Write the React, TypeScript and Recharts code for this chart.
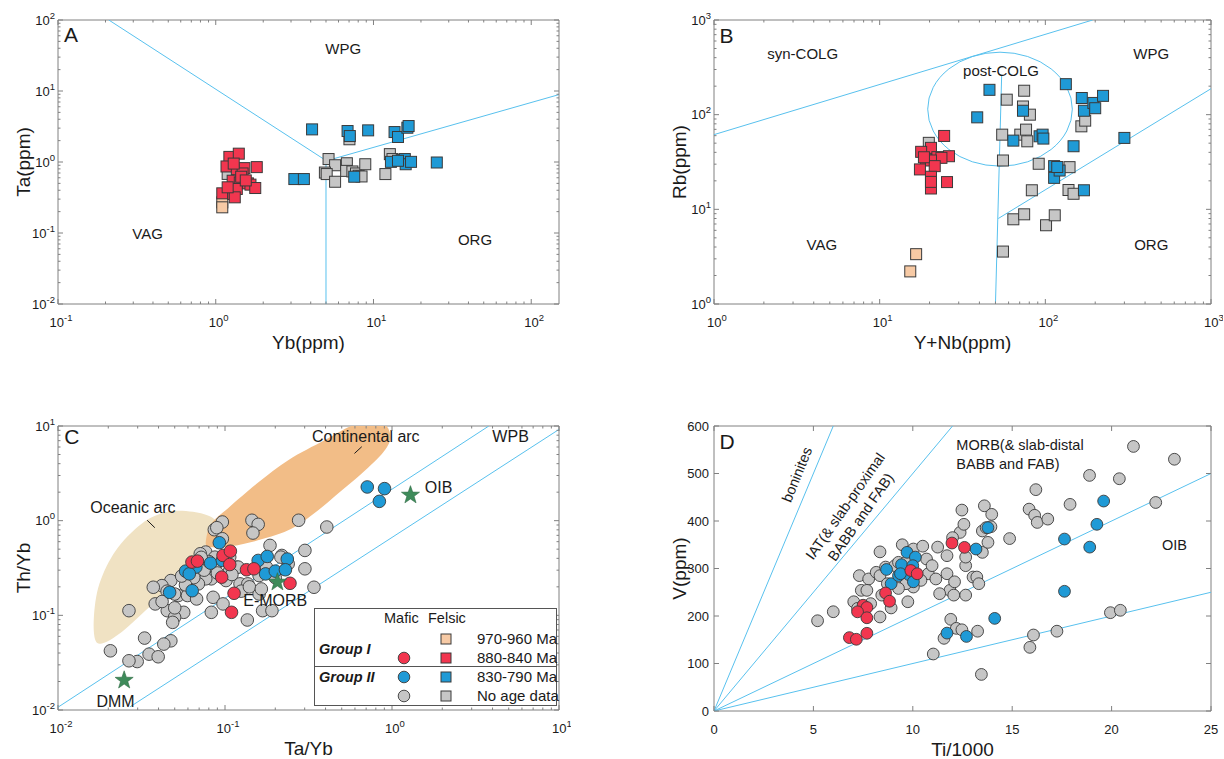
import React from 'react';
import { ScatterChart, Scatter, XAxis, YAxis, Legend } from 'recharts';

const FONT = '"Liberation Sans", Arial, Helvetica, sans-serif';
const INK = '#1a1a1a';
const AXIS = '#808080';
const BOUND = '#58c1ee';
const EDGE = '#3a3a3a';
const RED = '#f2364f';
const BLUE = '#1f9ad6';
const GRAY = '#c6c6c6';
const PEACH = '#f7caa5';
const GREEN = '#3e8b5a';
const CONT = '#f2bd87';
const OCEAN = '#f0e2c3';

type Pt = [number, number];
type Lbl = { x: number; y: number; t: string };

// ---------- A: Ta vs Yb ----------
const A_FELSIC_970: Pt[] = [[1.1, 0.27], [1.1, 0.23]];
const A_FELSIC_880: Pt[] = [
  [1.22, 1.18], [1.4, 1.31], [1.17, 0.865], [1.36, 0.79], [1.52, 0.82], [1.48, 0.69], [1.82, 0.847],
  [1.28, 0.545], [1.42, 0.516], [1.1, 0.362], [1.29, 0.355], [1.36, 0.417], [1.6, 0.5], [1.66, 0.48],
  [1.78, 0.43], [1.32, 0.318], [1.19, 0.44], [1.45, 0.62], [1.3, 0.95], [1.55, 0.55],
];
const A_FELSIC_830: Pt[] = [
  [4.08, 2.88], [6.85, 2.73], [7.08, 2.32], [9.25, 2.79], [13.6, 2.64], [14.3, 2.25], [16.4, 3.04],
  [16.7, 3.21], [3.15, 0.575], [3.62, 0.575], [7.55, 0.62], [12.9, 1.005], [15.1, 1.06], [15.8, 1.1],
  [16.0, 0.93], [25.2, 0.984], [14.3, 1.04], [17.3, 1.005],
];
const A_FELSIC_NOAGE: Pt[] = [
  [5.19, 1.1], [5.71, 0.9], [4.92, 0.71], [5.05, 0.676], [5.71, 0.527], [6.78, 0.96], [6.71, 0.75],
  [7.35, 0.736], [7.75, 0.69], [8.05, 0.64], [8.87, 0.93], [11.9, 0.676], [12.7, 1.29], [8.4, 0.626],
  [7.04, 2.09], [1.19, 0.68], [13.2, 1.1],
];
const A_BOUNDS: Pt[][] = [
  [[0.21, 100], [4.9, 1.08]],
  [[5, 0.01], [5, 1.0]],
  [[5.5, 1.1], [150, 8.9]],
];
const A_LETTER: Lbl[] = [{ x: 0.121, y: 63, t: 'A' }];
const A_TEXT: Lbl[] = [
  { x: 6.43, y: 40, t: 'WPG' },
  { x: 0.37, y: 0.098, t: 'VAG' },
  { x: 44, y: 0.08, t: 'ORG' },
];

// ---------- B: Rb vs Y+Nb ----------
const B_FELSIC_970: Pt[] = [[16.6, 3.36], [15.3, 2.21]];
const B_FELSIC_880: Pt[] = [
  [24.5, 59.6], [20.4, 44.6], [17.8, 40.5], [26.2, 36.4], [22.3, 35.6], [23.6, 35.0], [19.0, 33.6],
  [20.4, 32.8], [21.5, 28.6], [17.5, 26.4], [20.4, 22.1], [25.5, 19.4], [20.4, 16.6], [20.4, 19.5], [18.5, 35.5],
];
const B_FELSIC_830: Pt[] = [
  [46.0, 183], [38.8, 93.7], [64.1, 53.2], [73.3, 110], [92.3, 59.1], [96.3, 61.5], [97.3, 55.9],
  [133, 210], [166, 150], [171, 110], [195, 133], [200, 117], [223, 158], [148, 46.4], [113, 28.6],
  [113, 21.5], [122, 25.7], [300, 56.8], [171, 15.9], [118, 28],
];
const B_FELSIC_NOAGE: Pt[] = [
  [58.5, 144], [74.5, 179], [73.3, 122], [80.7, 100], [54.9, 61.5], [70.6, 61.5], [76.5, 69.5],
  [77.8, 52.3], [55.5, 32.8], [91.2, 30.3], [140, 27.9], [82.9, 15.9], [138, 16.0], [148, 14.6],
  [165, 75.3], [174, 86.5], [64.1, 7.85], [74.5, 8.86], [101, 6.79], [114, 8.65], [55.5, 3.58], [19.8, 50.4],
];
const B_BOUNDS: Pt[][] = [
  [[1, 61.5], [193, 1000]],
  [[50, 1], [54.5, 260]],
  [[52, 8.0], [1000, 188]],
];
// left, top, right, bottom of the post-COLG field
const B_POST_COLG: Pt[] = [[19.5, 116], [53.3, 457], [145.5, 116], [53.3, 28.6]];
const B_LETTER: Lbl[] = [{ x: 1.19, y: 695, t: 'B' }];
const B_TEXT: Lbl[] = [
  { x: 3.43, y: 445, t: 'syn-COLG' },
  { x: 54, y: 290, t: 'post-COLG' },
  { x: 436, y: 445, t: 'WPG' },
  { x: 4.48, y: 4.28, t: 'VAG' },
  { x: 436, y: 4.28, t: 'ORG' },
];

// ---------- C: Th/Yb vs Ta/Yb ----------
const C_MAFIC_880: Pt[] = [
  [0.0634, 0.365], [0.0684, 0.374], [0.0973, 0.429], [0.1077, 0.476], [0.1067, 0.344], [0.0955, 0.253],
  [0.1133, 0.171], [0.1094, 0.1076], [0.1345, 0.303], [0.149, 0.31], [0.245, 0.218],
];
const C_MAFIC_830: Pt[] = [
  [0.711, 2.27], [0.902, 2.18], [0.84, 1.6], [0.0925, 0.585], [0.0581, 0.293], [0.0669, 0.323],
  [0.082, 0.356], [0.0466, 0.175], [0.0636, 0.182], [0.158, 0.38], [0.179, 0.419], [0.236, 0.393],
  [0.175, 0.274], [0.2, 0.293], [0.23, 0.303], [0.0611, 0.274], [0.0964, 0.38],
];
const C_MAFIC_NOAGE: Pt[] = [
  [0.0964, 0.968], [0.0863, 0.803], [0.0893, 0.843], [0.0964, 0.644], [0.145, 1.01], [0.158, 0.914],
  [0.147, 0.74], [0.276, 1.01], [0.407, 0.857], [0.186, 0.548], [0.301, 0.485], [0.301, 0.31],
  [0.341, 0.198], [0.219, 0.429], [0.239, 0.35], [0.16, 0.263], [0.177, 0.323], [0.118, 0.323],
  [0.123, 0.215], [0.1067, 0.297], [0.0767, 0.466], [0.0711, 0.447], [0.0871, 0.412], [0.0828, 0.243],
  [0.0767, 0.243], [0.0693, 0.215], [0.0849, 0.155], [0.0973, 0.132], [0.0828, 0.1076], [0.137, 0.215],
  [0.136, 0.0893], [0.168, 0.112], [0.191, 0.112], [0.216, 0.412], [0.16, 0.168], [0.0474, 0.233],
  [0.0419, 0.206], [0.0372, 0.198], [0.0382, 0.132], [0.0451, 0.112], [0.0566, 0.1076], [0.0499, 0.0953],
  [0.0486, 0.0843], [0.0266, 0.112], [0.033, 0.0575], [0.0474, 0.0538], [0.043, 0.0497], [0.0351, 0.0389],
  [0.0398, 0.0365], [0.0298, 0.0325], [0.0266, 0.0331], [0.0206, 0.0422], [0.0525, 0.162], [0.0499, 0.168],
  [0.0596, 0.162], [0.0676, 0.149], [0.1067, 0.412], [0.12, 0.323], [0.0871, 0.323], [0.1014, 0.233],
  [0.075, 0.3], [0.09, 0.28], [0.065, 0.25], [0.08, 0.37], [0.072, 0.41], [0.058, 0.21], [0.055, 0.26],
  [0.11, 0.27], [0.125, 0.18], [0.14, 0.2], [0.2, 0.25], [0.165, 0.19], [0.045, 0.18], [0.042, 0.14], [0.05, 0.12],
];
const C_REFERENCE: Pt[] = [[0.0249, 0.0206], [0.206, 0.224], [1.29, 1.86]]; // DMM, E-MORB, OIB
const C_OCEANIC_ARC: Pt[] = [
  [0.0168, 0.0538], [0.0164, 0.0953], [0.0177, 0.215], [0.0222, 0.485], [0.0317, 0.929], [0.0452, 1.24],
  [0.0643, 1.24], [0.0828, 1.09], [0.0871, 0.929], [0.0807, 0.671], [0.0711, 0.447], [0.0581, 0.297],
  [0.0452, 0.182], [0.0333, 0.112], [0.0246, 0.0688], [0.0191, 0.0517],
];
const C_CONTINENTAL_ARC: Pt[] = [
  [0.0767, 0.594], [0.0828, 0.929], [0.1067, 1.4], [0.16, 2.57], [0.239, 4.36], [0.397, 7.11], [0.6, 10.3],
  [0.88, 10.6], [0.977, 7.71], [0.891, 5.35], [0.659, 3.15], [0.462, 1.86], [0.341, 1.19], [0.239, 0.79],
  [0.1445, 0.594], [0.1014, 0.526], [0.0807, 0.526],
];
const C_BOUNDS: Pt[][] = [
  [[0.01, 0.0107], [3.8, 10]],
  [[0.027, 0.0108], [10, 9.2]],
];
const C_LEADERS: Pt[][] = [
  [[0.0342, 1.01], [0.038, 0.843]],
  [[0.596, 5.13], [0.659, 6.04]],
];
const C_LETTER: Lbl[] = [{ x: 0.0121, y: 7.7, t: 'C' }];
const C_TEXT: Lbl[] = [
  { x: 0.697, y: 7.83, t: 'Continental arc' },
  { x: 0.0281, y: 1.4, t: 'Oceanic arc' },
  { x: 5.13, y: 7.83, t: 'WPB' },
  { x: 1.9, y: 2.24, t: 'OIB' },
  { x: 0.2, y: 0.143, t: 'E-MORB' },
  { x: 0.0221, y: 0.0124, t: 'DMM' },
];

// ---------- D: V vs Ti/1000 ----------
const D_MAFIC_880: Pt[] = [
  [6.81, 154.5], [7.16, 151], [7.69, 163.6], [7.5, 222.7], [7.69, 217.9], [7.22, 208.8], [8.63, 248.5],
  [8.83, 231.1], [9.9, 295.8], [10.22, 288.9], [11.97, 353.6], [12.6, 344.5], [7.69, 196.3],
];
const D_MAFIC_830: Pt[] = [
  [9.71, 334], [10.13, 324], [9.43, 308], [10.0, 306], [8.68, 298], [8.91, 268], [9.28, 285], [9.81, 287],
  [10.03, 272], [13.78, 386], [13.18, 341], [17.63, 362], [19.26, 393], [18.9, 345], [19.6, 442],
  [17.63, 252], [14.12, 195], [11.72, 164], [12.7, 157], [9.38, 289],
];
const D_MAFIC_NOAGE: Pt[] = [
  [5.21, 190], [6.0, 209], [8.35, 335], [9.47, 350], [7.03, 230], [7.31, 285], [7.78, 278], [8.16, 292],
  [8.35, 285], [8.63, 303], [9.1, 306], [9.28, 313], [9.66, 313], [10.03, 341], [10.5, 347], [10.69, 320],
  [10.78, 289], [11.16, 278], [11.25, 345], [11.72, 327], [11.72, 289], [11.87, 254], [12.06, 244],
  [12.1, 272], [12.38, 376], [12.47, 423], [12.66, 306], [12.66, 244], [13.03, 282], [13.22, 282],
  [13.32, 268], [13.5, 334], [13.6, 432], [13.78, 355], [13.97, 414], [13.5, 379], [14.87, 363],
  [15.85, 425], [16.19, 466], [16.13, 412], [16.26, 397], [16.79, 404], [17.91, 435], [18.89, 496],
  [20.39, 489], [21.1, 557], [23.16, 530], [22.22, 439], [19.94, 207], [20.44, 212], [17.25, 168],
  [16.07, 160], [15.89, 134], [11.03, 120], [13.26, 168], [11.57, 153], [11.91, 193], [12.19, 174],
  [12.47, 171], [13.45, 77], [9.75, 230], [8.44, 244], [8.35, 198], [8.91, 217], [11.35, 247],
  [10.97, 306], [10.41, 275], [10.03, 261], [9.66, 268], [9.28, 258], [8.72, 268], [7.88, 226],
  [7.22, 216], [7.41, 254], [7.69, 254], [13.69, 386], [13.93, 388], [12.57, 393], [12.0, 365], [12.66, 324],
];
const D_BOUNDS: Pt[][] = [
  [[0, 0], [6, 600]],
  [[0, 0], [12, 600]],
  [[0, 0], [25, 500]],
  [[0, 0], [25, 250]],
];
const D_LETTER: Lbl[] = [{ x: 0.66, y: 567, t: 'D' }];
const D_TEXT: Lbl[] = [
  { x: 4.16, y: 498, t: 'boninites' },
  { x: 6.98, y: 420, t: 'IAT(& slab-proximal\nBABB and FAB)' },
  { x: 12.19, y: 541, t: 'MORB(& slab-distal\nBABB and FAB)' },
  { x: 23.16, y: 349, t: 'OIB' },
];
const TEXT_ROTATION: Record<string, number> = {
  boninites: -68,
  'IAT(& slab-proximal\nBABB and FAB)': -55,
};
const TEXT_ANCHOR: Record<string, 'start' | 'middle' | 'end'> = {
  'MORB(& slab-distal\nBABB and FAB)': 'start',
};

const LEGEND_ROWS = [
  { label: '970-960 Ma', mafic: null as string | null, felsic: PEACH },
  { label: '880-840 Ma', mafic: RED, felsic: RED },
  { label: '830-790 Ma', mafic: BLUE, felsic: BLUE },
  { label: 'No age data', mafic: GRAY, felsic: GRAY },
];
const LEGEND_GROUPS = ['Group I', 'Group II'];

// ---------- helpers ----------
const logTicks = (lo: number, hi: number) => {
  const out: number[] = [];
  for (let e = Math.floor(Math.log10(lo)); e <= Math.ceil(Math.log10(hi)); e++) {
    for (let m = 1; m < 10; m++) {
      const v = +(m * Math.pow(10, e)).toPrecision(6);
      if (v >= lo * 0.999 && v <= hi * 1.001) out.push(v);
    }
  }
  return out;
};

const pts = (a: Pt[]) => a.map(([x, y]) => ({ x, y }));
const EMPTY = () => <g />;

type Side = 'bottom' | 'top' | 'left' | 'right';
const tickFn = (side: Side, log: boolean) => (p: any) => {
  const x = Number(p.x);
  const y = Number(p.y);
  const v = Number(p.payload?.value);
  const e = log ? Math.log10(v) : 0;
  const major = !log || Math.abs(e - Math.round(e)) < 1e-6;
  const len = major ? 5 : 2.5;
  const seg =
    side === 'bottom' ? [x, y, x, y - len] : side === 'top' ? [x, y, x, y + len] : side === 'left' ? [x, y, x + len, y] : [x, y, x - len, y];
  let label: React.ReactNode = null;
  if (major && (side === 'bottom' || side === 'left')) {
    const body = log ? (
      <>
        10<tspan dy={-6} fontSize={9.5}>{Math.round(e)}</tspan>
      </>
    ) : (
      <>{v}</>
    );
    label =
      side === 'bottom' ? (
        <text x={x + (log ? 3 : 0)} y={y + 22.5} textAnchor="middle" fontSize={13} fill={INK} fontFamily={FONT}>
          {body}
        </text>
      ) : (
        <text x={x - (log ? 3 : 5)} y={y + 4.6} textAnchor="end" fontSize={13} fill={INK} fontFamily={FONT}>
          {body}
        </text>
      );
  }
  return (
    <g>
      <line x1={seg[0]} y1={seg[1]} x2={seg[2]} y2={seg[3]} stroke={AXIS} strokeWidth={1} />
      {label}
    </g>
  );
};

const square = (fill: string, s = 11) => (p: any) => (
  <rect x={p.cx - s / 2} y={p.cy - s / 2} width={s} height={s} fill={fill} stroke={EDGE} strokeWidth={1} />
);
const circle = (fill: string, r = 6) => (p: any) => <circle cx={p.cx} cy={p.cy} r={r} fill={fill} stroke={EDGE} strokeWidth={0.9} />;
const star = (fill: string, ro = 9.5, ri = 3.8) => (p: any) => {
  const v: string[] = [];
  for (let k = 0; k < 10; k++) {
    const a = ((-90 + k * 36) * Math.PI) / 180;
    const r = k % 2 ? ri : ro;
    v.push(`${p.cx + r * Math.cos(a)},${p.cy + r * Math.sin(a)}`);
  }
  return <polygon points={v.join(' ')} fill={fill} stroke="#2f6b45" strokeWidth={0.6} />;
};
const textShape = (size: number) => (p: any) => {
  const d = p.payload ?? p;
  const lines = String(d.t).split('\n');
  const rot = TEXT_ROTATION[d.t] ?? 0;
  const anchor = TEXT_ANCHOR[d.t] ?? 'middle';
  const lh = size * 1.3;
  return (
    <g transform={`translate(${p.cx} ${p.cy}) rotate(${rot})`}>
      <text textAnchor={anchor} fontSize={size} fill={INK} fontFamily={FONT}>
        {lines.map((ln, i) => (
          <tspan key={i} x={0} y={(i - (lines.length - 1) / 2) * lh} dy="0.36em">
            {ln}
          </tspan>
        ))}
      </text>
    </g>
  );
};

const smoothClosed = (ps: { x: number; y: number }[]) => {
  const n = ps.length;
  let d = `M${ps[0].x},${ps[0].y}`;
  for (let i = 0; i < n; i++) {
    const p0 = ps[(i - 1 + n) % n], p1 = ps[i], p2 = ps[(i + 1) % n], p3 = ps[(i + 2) % n];
    d += `C${p1.x + (p2.x - p0.x) / 6},${p1.y + (p2.y - p0.y) / 6} ${p2.x - (p3.x - p1.x) / 6},${p2.y - (p3.y - p1.y) / 6} ${p2.x},${p2.y}`;
  }
  return d + 'Z';
};

const marks = (key: string, data: Pt[], shape: any) => (
  <Scatter key={key} data={pts(data)} shape={shape} isAnimationActive={false} />
);
const lines = (key: string, segs: Pt[][], color = BOUND) =>
  segs.map((s, i) => (
    <Scatter
      key={`${key}${i}`}
      data={pts(s)}
      shape={EMPTY}
      line={{ stroke: color, strokeWidth: 1 }}
      lineJointType="linear"
      isAnimationActive={false}
    />
  ));
const field = (key: string, data: Pt[], fill: string) => (
  <Scatter
    key={key}
    data={pts(data)}
    shape={EMPTY}
    line={(p: any) => <path d={smoothClosed(p.points)} fill={fill} stroke="none" />}
    isAnimationActive={false}
  />
);
const ellipse = (key: string, data: Pt[]) => (
  <Scatter
    key={key}
    data={pts(data)}
    shape={EMPTY}
    line={(p: any) => {
      const [l, t, r, b] = p.points;
      return <ellipse cx={(l.x + r.x) / 2} cy={(t.y + b.y) / 2} rx={(r.x - l.x) / 2} ry={(b.y - t.y) / 2} fill="none" stroke={BOUND} strokeWidth={1} />;
    }}
    isAnimationActive={false}
  />
);
const texts = (key: string, data: Lbl[], size: number) => (
  <Scatter key={key} data={data} shape={textShape(size)} isAnimationActive={false} />
);

type AxisSpec = { domain: [number, number]; ticks: number[]; log: boolean };
type Rect = { l: number; r: number; t: number; b: number };

function Panel(props: { plot: Rect; xa: AxisSpec; ya: AxisSpec; xTitle: string; yTitle: string; children: React.ReactNode }) {
  const { plot, xa, ya, xTitle, yTitle, children } = props;
  const L = plot.l - 58;
  const T = plot.t - 12;
  const pw = plot.r - plot.l;
  const ph = plot.b - plot.t;
  const W = pw + 70;
  const H = ph + 66;
  const common: any = {
    type: 'number',
    allowDataOverflow: true,
    interval: 0,
    tickLine: false,
    tickSize: 0,
    tickMargin: 0,
    axisLine: { stroke: AXIS },
  };
  const xs = xa.log ? 'log' : 'linear';
  const ys = ya.log ? 'log' : 'linear';
  return (
    <div style={{ position: 'absolute', left: L, top: T, width: W, height: H }}>
      <ScatterChart width={W} height={H} margin={{ left: 8, top: 11, right: 11, bottom: 4 }}>
        <XAxis
          {...common}
          dataKey="x"
          scale={xs}
          domain={xa.domain}
          ticks={xa.ticks}
          height={50}
          tick={tickFn('bottom', xa.log)}
          label={() => (
            <text x={58 + pw / 2} y={12 + ph + 38} textAnchor="middle" dominantBaseline="central" fontSize={19} fill={INK} fontFamily={FONT}>
              {xTitle}
            </text>
          )}
        />
        <XAxis {...common} xAxisId="top" orientation="top" dataKey="x" scale={xs} domain={xa.domain} ticks={xa.ticks} height={1} tick={tickFn('top', xa.log)} />
        <YAxis
          {...common}
          dataKey="y"
          scale={ys}
          domain={ya.domain}
          ticks={ya.ticks}
          width={50}
          tick={tickFn('left', ya.log)}
          label={() => (
            <text
              transform={`translate(23 ${12 + ph / 2}) rotate(-90)`}
              textAnchor="middle"
              dominantBaseline="central"
              fontSize={19}
              fill={INK}
              fontFamily={FONT}
            >
              {yTitle}
            </text>
          )}
        />
        <YAxis {...common} yAxisId="right" orientation="right" dataKey="y" scale={ys} domain={ya.domain} ticks={ya.ticks} width={1} tick={tickFn('right', ya.log)} />
        <Scatter xAxisId="top" yAxisId="right" data={[{ x: xa.domain[0], y: ya.domain[0] }]} shape={EMPTY} isAnimationActive={false} />
        {children}
      </ScatterChart>
    </div>
  );
}

function LegendBox() {
  const rowY = [30, 49, 68, 87];
  const cell = (left: number, cy: number, node: React.ReactNode, style: React.CSSProperties = {}) => (
    <div style={{ position: 'absolute', left, top: cy - 10, height: 20, lineHeight: '20px', whiteSpace: 'nowrap', ...style }}>{node}</div>
  );
  const dot = (c: string) => (
    <svg width={14} height={14} style={{ display: 'block', marginTop: 3 }}>
      <circle cx={7} cy={7} r={5.8} fill={c} stroke={EDGE} strokeWidth={0.9} />
    </svg>
  );
  const box = (c: string) => (
    <svg width={12} height={12} style={{ display: 'block', marginTop: 4 }}>
      <rect x={1} y={1} width={10} height={10} fill={c} stroke={EDGE} strokeWidth={1} />
    </svg>
  );
  return (
    <div
      style={{
        position: 'relative',
        width: 243,
        height: 98,
        boxSizing: 'border-box',
        border: '1px solid #555',
        background: '#fff',
        fontFamily: FONT,
        color: INK,
        fontSize: 15,
      }}
    >
      {cell(69, 9, 'Mafic', { fontSize: 14.5 })}
      {cell(113, 9, 'Felsic', { fontSize: 14.5 })}
      {cell(4, 40, LEGEND_GROUPS[0], { fontWeight: 'bold', fontStyle: 'italic', fontSize: 14.5 })}
      {cell(4, 68, LEGEND_GROUPS[1], { fontWeight: 'bold', fontStyle: 'italic', fontSize: 14.5 })}
      <div style={{ position: 'absolute', left: 0, right: 0, top: 57, height: 1, background: '#555' }} />
      {LEGEND_ROWS.map((r, i) => (
        <React.Fragment key={r.label}>
          {r.mafic ? cell(82, rowY[i], dot(r.mafic)) : null}
          {cell(125, rowY[i], box(r.felsic))}
          {cell(162, rowY[i], r.label)}
        </React.Fragment>
      ))}
    </div>
  );
}

const A_PLOT: Rect = { l: 58, r: 559, t: 20, b: 304 };
const B_PLOT: Rect = { l: 714, r: 1211, t: 20, b: 304 };
const C_PLOT: Rect = { l: 58, r: 559, t: 426, b: 710 };
const D_PLOT: Rect = { l: 714, r: 1211, t: 426, b: 711 };

const axisLog = (lo: number, hi: number): AxisSpec => ({ domain: [lo, hi], ticks: logTicks(lo, hi), log: true });
const D_X_TICKS = [0, 5, 10, 15, 20, 25];
const D_Y_TICKS = [0, 100, 200, 300, 400, 500, 600];

export default function App() {
  return (
    <div style={{ position: 'absolute', left: 0, top: 0, width: 1224, height: 759, overflow: 'hidden', background: '#fff', fontFamily: FONT }}>
      <Panel plot={A_PLOT} xa={axisLog(0.1, 150)} ya={axisLog(0.01, 100)} xTitle="Yb(ppm)" yTitle="Ta(ppm)">
        {lines('ab', A_BOUNDS)}
        {marks('a970', A_FELSIC_970, square(PEACH))}
        {marks('ana', A_FELSIC_NOAGE, square(GRAY))}
        {marks('a830', A_FELSIC_830, square(BLUE))}
        {marks('a880', A_FELSIC_880, square(RED))}
        {texts('at', A_TEXT, 15)}
        {texts('al', A_LETTER, 21)}
      </Panel>

      <Panel plot={B_PLOT} xa={axisLog(1, 1000)} ya={axisLog(1, 1000)} xTitle="Y+Nb(ppm)" yTitle="Rb(ppm)">
        {lines('bb', B_BOUNDS)}
        {ellipse('bpc', B_POST_COLG)}
        {marks('b970', B_FELSIC_970, square(PEACH))}
        {marks('bna', B_FELSIC_NOAGE, square(GRAY))}
        {marks('b830', B_FELSIC_830, square(BLUE))}
        {marks('b880', B_FELSIC_880, square(RED))}
        {texts('bt', B_TEXT, 15)}
        {texts('bl', B_LETTER, 21)}
      </Panel>

      <Panel plot={C_PLOT} xa={axisLog(0.01, 10)} ya={axisLog(0.01, 10)} xTitle="Ta/Yb" yTitle="Th/Yb">
        {field('coa', C_OCEANIC_ARC, OCEAN)}
        {field('cca', C_CONTINENTAL_ARC, CONT)}
        {lines('cb', C_BOUNDS)}
        {lines('cl', C_LEADERS, INK)}
        {marks('cna', C_MAFIC_NOAGE, circle(GRAY, 6.3))}
        {marks('c830', C_MAFIC_830, circle(BLUE, 6.3))}
        {marks('c880', C_MAFIC_880, circle(RED, 6.3))}
        {marks('cref', C_REFERENCE, star(GREEN))}
        {texts('ct', C_TEXT, 16)}
        {texts('cl2', C_LETTER, 21)}
        <Legend
          key="legend"
          layout="vertical"
          align="center"
          verticalAlign="middle"
          wrapperStyle={{ left: 314, top: 194, width: 243, height: 98 }}
          content={() => <LegendBox />}
        />
      </Panel>

      <Panel
        plot={D_PLOT}
        xa={{ domain: [0, 25], ticks: D_X_TICKS, log: false }}
        ya={{ domain: [0, 600], ticks: D_Y_TICKS, log: false }}
        xTitle="Ti/1000"
        yTitle="V(ppm)"
      >
        {lines('db', D_BOUNDS)}
        {marks('dna', D_MAFIC_NOAGE, circle(GRAY, 5.9))}
        {marks('d830', D_MAFIC_830, circle(BLUE, 5.9))}
        {marks('d880', D_MAFIC_880, circle(RED, 5.9))}
        {texts('dt', D_TEXT, 14.5)}
        {texts('dl', D_LETTER, 21)}
      </Panel>
    </div>
  );
}
